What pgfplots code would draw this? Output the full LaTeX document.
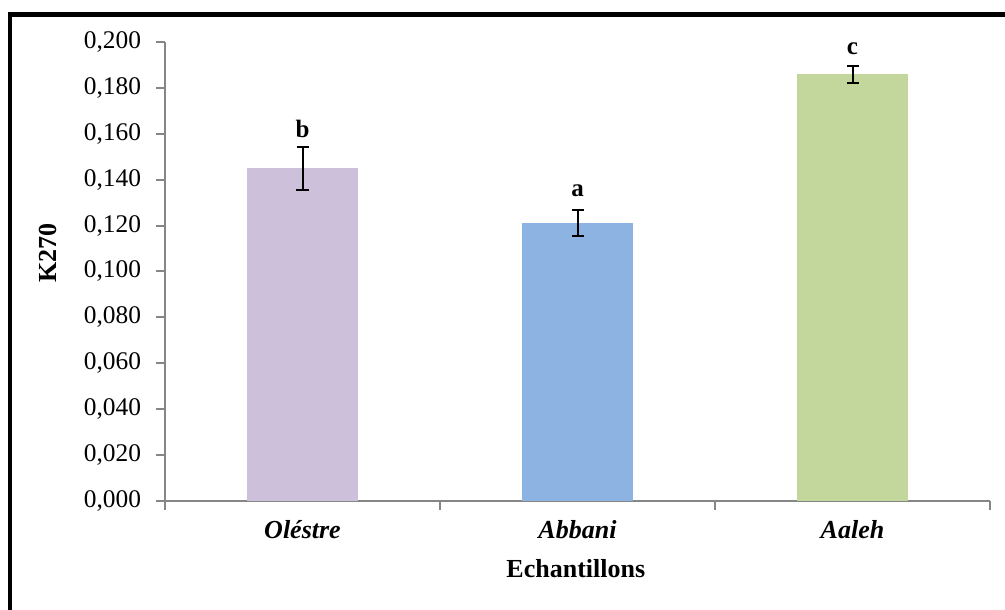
\documentclass[border=0pt]{standalone}
\usepackage{fontspec}
\setmainfont{Liberation Serif}
\usepackage{pgfplots}
\pgfplotsset{compat=1.18}
\usepackage{pgfplotstable}

\definecolor{olestre}{HTML}{CCC0DA}
\definecolor{abbani}{HTML}{8DB3E2}
\definecolor{aaleh}{HTML}{C3D69B}
\definecolor{axgray}{HTML}{868686}

% K270 per sample: mean and standard deviation
\pgfplotstableread{
x y err
0 0.145 0.0094
}\tabOlestre
\pgfplotstableread{
x y err
1 0.121 0.0056
}\tabAbbani
\pgfplotstableread{
x y err
2 0.186 0.0037
}\tabAaleh

\begin{document}
\begin{tikzpicture}
\useasboundingbox (0,0) rectangle (502.5bp,305bp);
% chart frame
\draw[line width=2.2bp] (5bp,-10bp) |- (520bp,297.75bp);
\begin{axis}[
  at={(82.5bp,54.5bp)}, anchor=south west,
  scale only axis, width=412.5bp, height=229.5bp,
  ybar, bar width=55.5bp, bar shift=0pt,
  xmin=-0.5, xmax=2.5, ymin=0, ymax=0.2,
  axis x line*=bottom, axis y line*=left,
  axis line style={axgray, line width=1bp},
  tick style={axgray, line width=1bp},
  tick align=outside,
  major tick length=4.5bp,
  % category boundaries carry the tick marks
  xtick={-0.5,0.5,1.5,2.5},
  xticklabels={},
  % category names sit between them
  extra x ticks={0,1,2},
  extra x tick labels={Oléstre,Abbani,Aaleh},
  extra x tick style={major tick length=0pt,
    xticklabel style={font=\bfseries\itshape\fontsize{13bp}{15bp}\selectfont, anchor=base, yshift=-18.5bp}},
  ytick={0,0.02,0.04,0.06,0.08,0.1,0.12,0.14,0.16,0.18,0.2},
  yticklabel style={font=\fontsize{12.7bp}{15bp}\selectfont, xshift=-4bp},
  /pgf/number format/assume math mode=true,
  y tick label style={/pgf/number format/.cd, fixed, fixed zerofill, precision=3, use comma},
  scaled y ticks=false,
  xlabel={Echantillons},
  xlabel style={font=\bfseries\fontsize{13bp}{15bp}\selectfont, at={(axis description cs:0.498,-0.166)}, anchor=base},
  ylabel={K270},
  ylabel style={font=\bfseries\fontsize{13bp}{15bp}\selectfont, at={(axis description cs:-0.142,0.54)}, anchor=center, rotate=0},
  error bars/y dir=both,
  error bars/y explicit,
  error bars/error bar style={black, line width=1bp},
  error bars/error mark options={black, rotate=90, mark size=3bp, line width=1bp},
  clip=false,
]
\addplot[fill=olestre, draw=none] table[x=x, y=y, y error=err] {\tabOlestre};
\addplot[fill=abbani, draw=none] table[x=x, y=y, y error=err] {\tabAbbani};
\addplot[fill=aaleh, draw=none] table[x=x, y=y, y error=err] {\tabAaleh};
% significance letters above the error bars
\node[font=\bfseries\fontsize{12.5bp}{15bp}\selectfont, anchor=south, inner sep=0pt, yshift=4.5bp] at (axis cs:0,0.1544) {b};
\node[font=\bfseries\fontsize{12.5bp}{15bp}\selectfont, anchor=south, inner sep=0pt, yshift=6.5bp] at (axis cs:1,0.1266) {a};
\node[font=\bfseries\fontsize{12.5bp}{15bp}\selectfont, anchor=south, inner sep=0pt, yshift=5.5bp] at (axis cs:2,0.1897) {c};
\end{axis}
\end{tikzpicture}
\end{document}
